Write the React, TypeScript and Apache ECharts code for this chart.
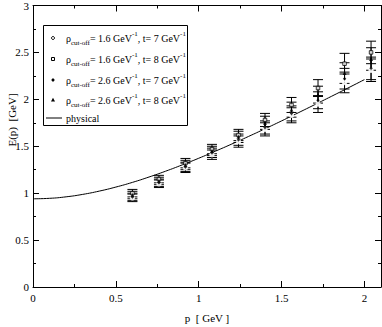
import React, { useEffect, useRef } from "react";
import * as echarts from "echarts";

const FONT = "Liberation Serif";

const pValues = [0.6, 0.76, 0.92, 1.08, 1.24, 1.4, 1.56, 1.72, 1.88, 2.04];
const rho16t7 = [0.95, 1.1, 1.27, 1.41, 1.55, 1.68, 1.83, 1.95, 2.18, 2.31];
const rho16t8 = [1.0, 1.15, 1.32, 1.47, 1.62, 1.78, 1.94, 2.12, 2.38, 2.5];
const rho26t7 = [0.96, 1.11, 1.28, 1.43, 1.57, 1.7, 1.85, 1.99, 2.22, 2.33];
const rho26t8 = [0.98, 1.13, 1.3, 1.45, 1.6, 1.75, 1.89, 2.05, 2.28, 2.43];
const errors = [0.04, 0.04, 0.05, 0.05, 0.06, 0.07, 0.08, 0.09, 0.11, 0.12];

const physicalP = [0, 0.1, 0.2, 0.3, 0.4, 0.5, 0.6, 0.7, 0.8, 0.9, 1.0, 1.1, 1.2, 1.3, 1.4, 1.5, 1.6, 1.7, 1.8, 1.9, 2.0];
const physicalE = [0.94, 0.945, 0.961, 0.987, 1.022, 1.065, 1.115, 1.172, 1.234, 1.301, 1.372, 1.447, 1.524, 1.604, 1.686, 1.77, 1.856, 1.943, 2.031, 2.12, 2.21];

const legendRows = [
  { rho: "1.6", t: "7" },
  { rho: "1.6", t: "8" },
  { rho: "2.6", t: "7" },
  { rho: "2.6", t: "8" },
];

export default function App() {
  const ref = useRef<HTMLDivElement>(null);
  useEffect(() => {
    if (!ref.current) return;
    const chart = echarts.init(ref.current, null, { renderer: "svg" });

    const errorSeries = (vals: number[]) => ({
      type: "custom",
      xAxisIndex: 0,
      yAxisIndex: 0,
      silent: true,
      data: pValues.map((p, i) => [p, vals[i] - errors[i], vals[i] + errors[i]]),
      encode: { x: 0, y: [1, 2] },
      renderItem: (params: any, api: any) => {
        const x = api.value(0);
        const lo = api.coord([x, api.value(1)]);
        const hi = api.coord([x, api.value(2)]);
        const w = 5;
        const st = { stroke: "#000", lineWidth: 1 };
        return {
          type: "group",
          children: [
            { type: "line", shape: { x1: lo[0], y1: lo[1], x2: hi[0], y2: hi[1] }, style: st },
            { type: "line", shape: { x1: lo[0] - w, y1: lo[1], x2: lo[0] + w, y2: lo[1] }, style: st },
            { type: "line", shape: { x1: hi[0] - w, y1: hi[1], x2: hi[0] + w, y2: hi[1] }, style: st },
          ],
        };
      },
    });

    const scatter = (vals: number[], symbol: string, size: number, filled: boolean) => ({
      type: "scatter",
      xAxisIndex: 0,
      yAxisIndex: 0,
      symbol,
      symbolSize: size,
      data: pValues.map((p, i) => [p, vals[i]]),
      itemStyle: filled
        ? { color: "#000" }
        : { color: "#fff", borderColor: "#000", borderWidth: 1 },
      z: 5,
    });

    const axisCommonX = (position: string, interval: number, len: number, line: boolean, labels: boolean) => ({
      type: "value",
      gridIndex: 0,
      position,
      min: 0,
      max: 2.1,
      interval,
      axisLine: { show: line, onZero: false, lineStyle: { color: "#000", width: 1 } },
      axisTick: { show: true, inside: true, length: len, lineStyle: { color: "#000", width: 1 } },
      axisLabel: {
        show: labels,
        showMaxLabel: false,
        color: "#000",
        fontFamily: FONT,
        fontSize: 11,
        margin: 5,
        formatter: (v: number) => (Math.abs(v - 2.1) < 1e-6 ? "" : String(v)),
      },
      splitLine: { show: false },
    });

    const axisY = (position: string, labels: boolean) => ({
      type: "value",
      gridIndex: 0,
      position,
      min: 0,
      max: 3,
      interval: 0.5,
      axisLine: { show: true, onZero: false, lineStyle: { color: "#000", width: 1 } },
      axisTick: { show: true, inside: true, length: 6, lineStyle: { color: "#000", width: 1 } },
      minorTick: { show: true, splitNumber: 2, length: 3, lineStyle: { color: "#000", width: 1 } },
      axisLabel: { show: labels, color: "#000", fontFamily: FONT, fontSize: 11, margin: 4 },
      splitLine: { show: false },
      minorSplitLine: { show: false },
    });

    const legendGraphics: any[] = [
      {
        type: "rect",
        shape: { x: 43.5, y: 25.5, width: 144, height: 100 },
        style: { fill: "#fff", stroke: "#000", lineWidth: 1 },
        z: 10,
      },
    ];
    const rowY = [38, 59, 80, 100, 118];
    const sx = 53;
    legendGraphics.push({ type: "circle", shape: { cx: sx, cy: rowY[0], r: 1.5 }, style: { fill: "#fff", stroke: "#000", lineWidth: 1 }, z: 11 });
    legendGraphics.push({ type: "rect", shape: { x: sx - 1.5, y: rowY[1] - 1.5, width: 3, height: 3 }, style: { fill: "#fff", stroke: "#000", lineWidth: 1 }, z: 11 });
    legendGraphics.push({ type: "polygon", shape: { points: [[sx, rowY[2] - 2], [sx + 1.8, rowY[2]], [sx, rowY[2] + 2], [sx - 1.8, rowY[2]]] }, style: { fill: "#000" }, z: 11 });
    legendGraphics.push({ type: "polygon", shape: { points: [[sx, rowY[3] - 2.2], [sx + 2, rowY[3] + 1.6], [sx - 2, rowY[3] + 1.6]] }, style: { fill: "#000" }, z: 11 });
    legendGraphics.push({ type: "line", shape: { x1: 46, y1: rowY[4], x2: 62, y2: rowY[4] }, style: { stroke: "#000", lineWidth: 1 }, z: 11 });

    legendRows.forEach((r, i) => {
      legendGraphics.push({
        type: "text",
        x: 66,
        y: rowY[i],
        z: 11,
        style: {
          text: `{m|ρ}{sub|cut-off}{m|= ${r.rho} GeV}{sup|-1}{m|, t= ${r.t} GeV}{sup|-1}`,
          verticalAlign: "middle",
          align: "left",
          fill: "#000",
          fontFamily: FONT,
          rich: {
            m: { fontFamily: FONT, fontSize: 10, lineHeight: 16, verticalAlign: "middle", fill: "#000" },
            sub: { fontFamily: FONT, fontSize: 7, lineHeight: 16, verticalAlign: "bottom", fill: "#000" },
            sup: { fontFamily: FONT, fontSize: 7, lineHeight: 16, verticalAlign: "top", fill: "#000" },
          },
        },
      });
    });
    legendGraphics.push({
      type: "text",
      x: 66,
      y: rowY[4],
      z: 11,
      style: { text: "physical", verticalAlign: "middle", align: "left", fill: "#000", fontFamily: FONT, fontSize: 10 },
    });

    chart.setOption({
      animation: false,
      backgroundColor: "#fff",
      textStyle: { fontFamily: FONT },
      grid: { left: 33, top: 5, right: 1, bottom: 40, containLabel: false },
      xAxis: [
        axisCommonX("bottom", 0.5, 6, true, true),
        axisCommonX("bottom", 0.25, 3, false, false),
        axisCommonX("top", 0.5, 6, true, false),
        axisCommonX("top", 0.25, 3, false, false),
      ],
      yAxis: [axisY("left", true), axisY("right", false)],
      series: [
        {
          type: "line",
          xAxisIndex: 0,
          yAxisIndex: 0,
          data: physicalP.map((p, i) => [p, physicalE[i]]),
          smooth: true,
          showSymbol: false,
          lineStyle: { color: "#000", width: 1 },
          z: 3,
        },
        errorSeries(rho16t7),
        errorSeries(rho16t8),
        errorSeries(rho26t7),
        errorSeries(rho26t8),
        scatter(rho16t7, "emptyCircle", 3.5, false),
        scatter(rho16t8, "rect", 3.5, false),
        scatter(rho26t7, "diamond", 3.5, true),
        scatter(rho26t8, "triangle", 4, true),
      ],
      graphic: [
        ...legendGraphics,
        {
          type: "text",
          x: 12,
          y: 120,
          rotation: Math.PI / 2,
          style: { text: "E(p)  [GeV]", align: "center", verticalAlign: "middle", fill: "#000", fontFamily: FONT, fontSize: 11 },
        },
        {
          type: "text",
          x: 207,
          y: 318,
          style: { text: "p  [ GeV ]", align: "center", verticalAlign: "middle", fill: "#000", fontFamily: FONT, fontSize: 11 },
        },
      ],
    });
    return () => chart.dispose();
  }, []);
  return (
    <div
      ref={ref}
      style={{ position: "fixed", left: 0, top: 0, width: 382, height: 327, background: "#fff" }}
    />
  );
}
